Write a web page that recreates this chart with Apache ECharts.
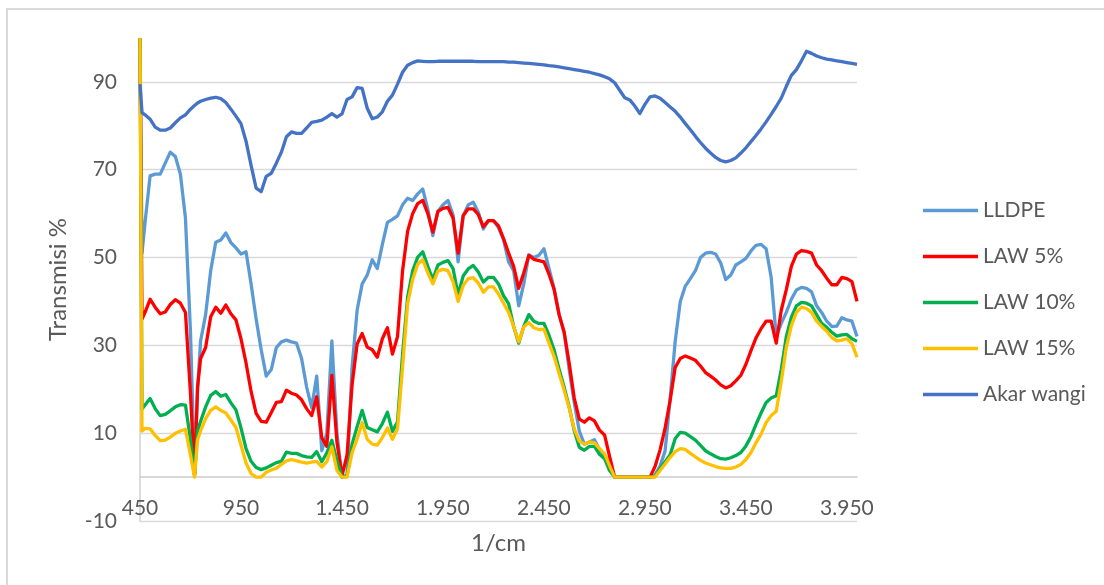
<!DOCTYPE html>
<html>
<head>
<meta charset="utf-8">
<script src="https://cdn.jsdelivr.net/npm/echarts@6.0.0/dist/echarts.min.js"></script>
<style>
html,body{margin:0;padding:0;background:#fff;}
#chart{width:1104px;height:585px;}
</style>
</head>
<body>
<div id="chart"></div>
<script>
// Wavenumber grid (1/cm)
const wavenumber = [
  450, 460, 475,
  500, 525, 550, 575, 600, 625, 650, 675, 700,
  720, 735,
  750, 775, 800, 825, 850, 875, 900, 925, 950, 975,
  1000, 1025, 1050, 1075, 1100, 1125, 1150, 1175, 1200, 1225, 1250, 1275, 1300, 1325, 1350, 1375, 1400, 1425, 1450, 1475,
  1500, 1525, 1550, 1575, 1600, 1625, 1650, 1675, 1700, 1725, 1750, 1775, 1800, 1825, 1850, 1875, 1900, 1925, 1950, 1975,
  2000, 2025, 2050, 2075, 2100, 2125, 2150, 2175, 2200, 2225, 2250, 2275, 2300, 2325, 2350, 2375, 2400, 2425, 2450, 2475,
  2500, 2525, 2550, 2575, 2600, 2625, 2650, 2675, 2700, 2725, 2750, 2775, 2800, 2825, 2850, 2875, 2900, 2925, 2950, 2975,
  3000, 3025, 3050, 3075, 3100, 3125, 3150, 3175, 3200, 3225, 3250, 3275, 3300, 3325, 3350, 3375, 3400, 3425, 3450, 3475,
  3500, 3525, 3550, 3575, 3600, 3625, 3650, 3675, 3700, 3725, 3750, 3775, 3800, 3825, 3850, 3875, 3900, 3925, 3950, 3975,
  4000
];

const lldpe = [
  100, 51, 58,
  68.6, 69, 69, 71.5, 74, 73, 69, 59, 33,
  0.5, 20,
  31, 37, 47, 53.5, 54, 55.6, 53.4, 52.2, 50.8, 51.3,
  44, 36, 29, 23, 24.5, 29.5, 30.8, 31.2, 30.8, 30.5, 27, 20.5, 15.8, 23, 6, 10, 31, 10, 0, 0.5,
  25, 38, 44, 46, 49.5, 47.5, 53, 58, 58.7, 59.5, 62, 63.5, 63, 64.5, 65.6, 61, 55, 60.5, 62, 63,
  59.7, 49, 59.5, 62, 62.6, 60.3, 56.5, 58.4, 58.4, 56.8, 54, 49, 47, 39, 44, 50.6, 50, 50.5, 52, 47.5,
  43, 37, 33, 24.5, 17, 10.5, 7.5, 8, 8.5, 6.3, 5, 3, 0, 0, 0, 0, 0, 0, 0, 0,
  0.5, 2.5, 6, 18, 31, 40, 43.5, 45.2, 47, 50, 51, 51.2, 50.8, 48.8, 45, 46, 48.3, 49, 49.8, 51.5,
  52.8, 53, 52, 45.5, 32, 35, 37.5, 40.5, 42.6, 43.2, 43, 42.2, 39, 37.5, 35.5, 34.3, 34.4, 36.3, 35.8, 35.5,
  32
];

const law5 = [
  100, 36, 37.5,
  40.5, 38.7, 37.2, 37.6, 39.3, 40.4, 39.6, 37.5, 19,
  0.5, 20.5,
  27, 29.5, 36.5, 38.7, 37.3, 39.2, 37.2, 35.8, 31.5, 26,
  19.5, 14.5, 12.7, 12.5, 14.7, 17, 17.2, 19.8, 19.1, 18.7, 17.6, 15.6, 14, 18.3, 9, 7, 23.2, 8, 0.3, 5,
  21, 30.3, 32.7, 29.6, 29, 27.3, 31.5, 34, 28, 32, 47, 56, 60, 62.3, 63, 60, 55.8, 60.5, 61.2, 61.4,
  59, 51, 59.5, 61.1, 61.1, 59.8, 57, 58.4, 58.4, 57.2, 54.3, 51, 48, 43, 46.5, 50.5, 49.6, 49.3, 49, 46.2,
  42.8, 37, 33, 26, 18, 13.2, 12.5, 13.5, 12.8, 10.7, 9.6, 4.7, 0, 0, 0, 0, 0, 0, 0, 0,
  2.4, 6.2, 11.2, 17.5, 25, 27, 27.6, 27.1, 26.6, 25.3, 23.8, 23, 22.1, 21, 20.3, 20.8, 21.9, 23.2, 25.7, 28.8,
  31.7, 33.8, 35.5, 35.5, 30.5, 38, 42.7, 48, 50.8, 51.6, 51.4, 51, 48.3, 47, 45.3, 43.8, 43.8, 45.5, 45.2, 44.5,
  40
];

const law10 = [
  100, 15.5, 16.4,
  17.9, 15.6, 14, 14.3, 15.1, 16, 16.5, 16.4, 8.5,
  0.5, 10.5,
  12.7, 16, 18.6, 19.5, 18.4, 18.8, 16.9, 15.3, 11.2, 6.5,
  3.6, 2.2, 1.7, 2.1, 2.7, 3.3, 3.6, 5.7, 5.4, 5.4, 4.9, 4.6, 4.5, 5.8, 3.5, 5.5, 8.4, 3.7, 0, 0.3,
  7.5, 11.5, 15.2, 11.3, 10.8, 10.3, 12.2, 14.8, 10.4, 12.6, 28, 41, 47, 50.1, 51.3, 48, 45, 48.3, 48.9, 49.3,
  47.5, 41.5, 45.8, 47.4, 48.2, 46.7, 44.4, 45.5, 45.5, 44, 41.3, 39.5, 34.3, 30.5, 34.3, 37, 35.5, 35, 35, 32.3,
  29, 24.6, 20.5, 16, 10.6, 6.8, 6.1, 7, 7, 5.2, 4.2, 1.5, 0, 0, 0, 0, 0, 0, 0, 0,
  0.1, 1.9, 3.5, 5.1, 8.8, 10.2, 10, 9.2, 8.4, 7.2, 6, 5.3, 4.7, 4.2, 4.1, 4.4, 4.9, 5.6, 7.1, 9.2,
  12, 14.6, 17, 18, 18.5, 24.5, 32, 36.4, 39, 39.8, 39.6, 39, 37, 35, 34.1, 33, 32.1, 32.4, 32.5, 31.5,
  30.9
];

const law15 = [
  100, 10.5, 11.1,
  11, 9.5, 8.3, 8.4, 9.1, 10, 10.5, 10.9, 5,
  0, 8.5,
  10.5, 13.3, 15.2, 16, 15.2, 14.6, 13, 11.3, 7.3, 3.2,
  0.8, 0, 0, 1.1, 1.6, 2, 2.9, 3.7, 4, 3.7, 3.4, 3.2, 3.4, 3.6, 2.3, 3.5, 6.9, 1.5, 0, 0,
  5.5, 8.7, 12.4, 8.6, 7.5, 7.3, 9, 11.2, 8.6, 11, 25, 39.5, 45, 48.5, 49.5, 46.5, 44, 46.9, 47.3, 47,
  44.5, 40, 43.6, 45.2, 45.4, 44.2, 42.1, 43.3, 43.3, 41.7, 39.6, 37.5, 34.3, 30.8, 34.2, 35.2, 34, 33.6, 33.7, 30.5,
  27.5, 23.6, 19.8, 15.7, 11, 8.2, 7.5, 8, 7.8, 6.5, 5.3, 2.6, 0, 0, 0, 0, 0, 0, 0, 0,
  0, 1.5, 3, 4.5, 5.8, 6.5, 6.3, 5.4, 4.6, 3.8, 3.2, 2.8, 2.4, 2.1, 2, 2, 2.3, 2.9, 4, 5.6,
  7.8, 9.8, 12.4, 14, 15, 21.8, 29.5, 34.5, 37.5, 38.7, 38.4, 37.5, 35.5, 34.3, 33.2, 31.8, 31, 31.2, 31.5, 30.4,
  27.3
];

const akarWangi = [
  89.5, 83, 82.5,
  81.5, 79.7, 79, 79, 79.5, 80.7, 81.8, 82.5, 83.8,
  84.6, 85.2,
  85.6, 86, 86.3, 86.5, 86.2, 85.3, 83.8, 82.2, 80.5, 76.5,
  71, 65.8, 65, 68.5, 69.2, 71.5, 74, 77.5, 78.6, 78.3, 78.3, 79.5, 80.8, 81, 81.3, 82, 82.8, 82, 82.7, 86,
  86.6, 88.7, 88.5, 84, 81.6, 82, 83.2, 85.6, 87, 89.5, 92.2, 93.8, 94.4, 94.8, 94.7, 94.6, 94.6, 94.7, 94.7, 94.7,
  94.7, 94.7, 94.7, 94.7, 94.7, 94.6, 94.6, 94.6, 94.6, 94.6, 94.6, 94.5, 94.5, 94.4, 94.3, 94.2, 94.1, 94, 93.9, 93.7,
  93.6, 93.4, 93.2, 93, 92.8, 92.6, 92.4, 92.2, 91.9, 91.6, 91.2, 90.7, 89.8, 88.1, 86.4, 85.9, 84.5, 82.8, 84.9, 86.6,
  86.8, 86.3, 85.3, 84.3, 83.3, 82, 80.5, 79.1, 77.6, 76.2, 74.9, 73.8, 72.8, 72.1, 71.8, 72.1, 72.7, 73.8, 75, 76.4,
  77.8, 79.3, 80.9, 82.6, 84.4, 86.3, 89, 91.5, 92.8, 94.8, 97, 96.5, 95.9, 95.5, 95.2, 95, 94.8, 94.6, 94.4, 94.2,
  94
];

const seriesNames = ['LLDPE', 'LAW 5%', 'LAW 10%', 'LAW 15%', 'Akar wangi'];
const seriesColors = ['#5b9bd5', '#ff0000', '#00b050', '#ffc000', '#4472c4'];
const seriesValues = [lldpe, law5, law10, law15, akarWangi];

const xTitle = '1/cm';
const yTitle = 'Transmisi %';

const FONT = 'Lato, "Open Sans", sans-serif';
const TXT = '#595959';

function fmtX(v) {
  if (v > 3950) return '';
  if (v >= 1000) {
    const th = Math.floor(v / 1000);
    const rest = String(v % 1000).padStart(3, '0');
    return th + '.' + rest;
  }
  return String(v);
}

const chart = echarts.init(document.getElementById('chart'), null, {renderer: 'canvas'});
chart.setOption({
  animation: false,
  backgroundColor: '#ffffff',
  grid: {left: 140, right: 247, top: 38, bottom: 64, containLabel: false, outerBoundsMode: 'none'},
  graphic: [{
    type: 'rect', silent: true, z: -10,
    shape: {x: 7, y: 9, width: 1120, height: 620},
    style: {fill: 'none', stroke: '#d9d9d9', lineWidth: 2}
  }],
  legend: {
    orient: 'vertical', left: 918, top: 195,
    itemWidth: 55, itemHeight: 20, itemGap: 25,
    icon: 'path://M0,0 M0,8.2 L55,8.2 L55,11.8 L0,11.8 Z M55,20',
    textStyle: {fontFamily: FONT, fontSize: 21, color: TXT},
    data: seriesNames
  },
  xAxis: {
    type: 'value', min: 450, max: 4000, interval: 500,
    name: xTitle, nameLocation: 'middle', nameGap: 10,
    nameTextStyle: {fontFamily: FONT, fontSize: 24, color: TXT},
    axisLine: {show: true, onZero: true, lineStyle: {color: '#cccccc', width: 1.5}},
    axisTick: {show: false},
    splitLine: {show: false},
    axisLabel: {fontFamily: FONT, fontSize: 21, color: TXT, margin: -23, formatter: fmtX, showMaxLabel: false}
  },
  yAxis: {
    type: 'value', min: -10, max: 100, interval: 20,
    name: yTitle, nameLocation: 'middle', nameGap: 70, nameRotate: 90,
    nameTextStyle: {fontFamily: FONT, fontSize: 24, color: TXT},
    axisLine: {show: true, onZero: false, lineStyle: {color: '#d0d0d0', width: 1.5}},
    axisTick: {show: false},
    splitLine: {show: true, lineStyle: {color: ['#d9d9d9','#d9d9d9','#d9d9d9','#d9d9d9','#d9d9d9','#d9d9d9','rgba(0,0,0,0)'], width: 1.3}},
    axisLabel: {fontFamily: FONT, fontSize: 21, color: TXT, margin: 23,
      formatter: function (v) { return v > 90 ? '' : String(v); }}
  },
  series: seriesNames.map(function (name, i) {
    return {
      name: name, type: 'line', symbol: 'none', smooth: false,
      clip: true,
      lineStyle: {color: seriesColors[i], width: 3.3, join: 'round'},
      itemStyle: {color: seriesColors[i]},
      data: wavenumber.map(function (w, j) { return [w, seriesValues[i][j]]; })
    };
  })
});
</script>
</body>
</html>
